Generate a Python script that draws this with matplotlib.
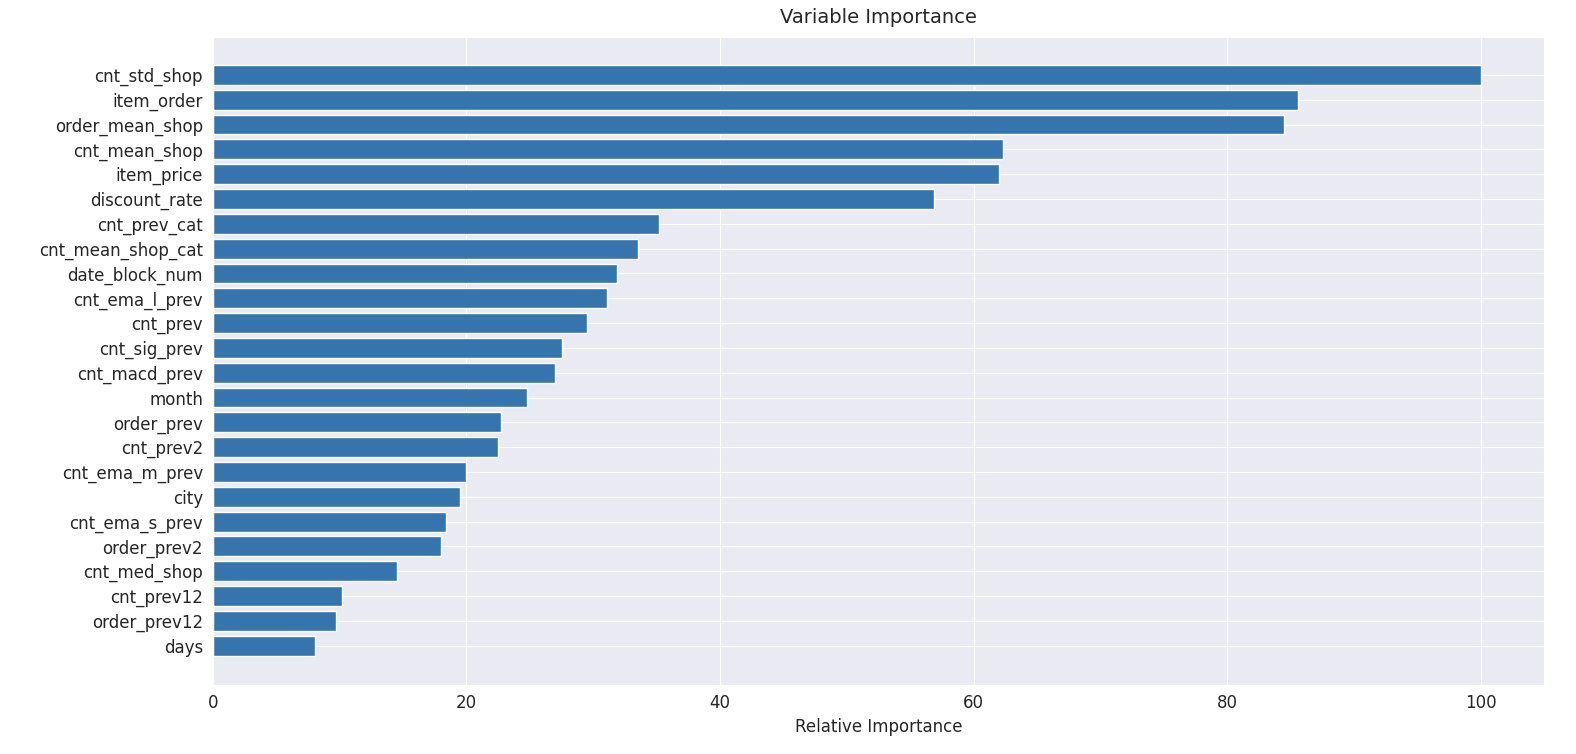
import matplotlib
matplotlib.use('Agg')
import matplotlib.pyplot as plt
import seaborn as sns

sns.set_style('darkgrid')

importancias = {
    'cnt_std_shop': 100.0, 'item_order': 85.6, 'order_mean_shop': 84.5,
    'cnt_mean_shop': 62.3, 'item_price': 62.0, 'discount_rate': 56.9,
    'cnt_prev_cat': 35.2, 'cnt_mean_shop_cat': 33.5, 'date_block_num': 31.9,
    'cnt_ema_l_prev': 31.1, 'cnt_prev': 29.5, 'cnt_sig_prev': 27.5,
    'cnt_macd_prev': 27.0, 'month': 24.8, 'order_prev': 22.7,
    'cnt_prev2': 22.5, 'cnt_ema_m_prev': 20.0, 'city': 19.5,
    'cnt_ema_s_prev': 18.4, 'order_prev2': 18.0, 'cnt_med_shop': 14.5,
    'cnt_prev12': 10.2, 'order_prev12': 9.7, 'days': 8.1,
}

nomes = list(importancias.keys())[::-1]
valores = [importancias[n] for n in nomes]
pos = range(len(nomes))

fig, ax = plt.subplots(figsize=(15.76, 7.54), dpi=100)
ax.barh(pos, valores, height=0.8, color='#3574ad')
ax.set_yticks(pos)
ax.set_yticklabels(nomes, fontsize=12)
ax.tick_params(axis='x', labelsize=12)
ax.set_xlabel('Relative Importance', fontsize=12)
ax.set_title('Variable Importance', fontsize=14, pad=10)
ax.set_xlim(0, 105)
ax.set_ylim(-1.57, 24.53)
plt.subplots_adjust(left=0.135, right=0.98, top=0.951, bottom=0.092)
plt.savefig('out.png', dpi=100)
